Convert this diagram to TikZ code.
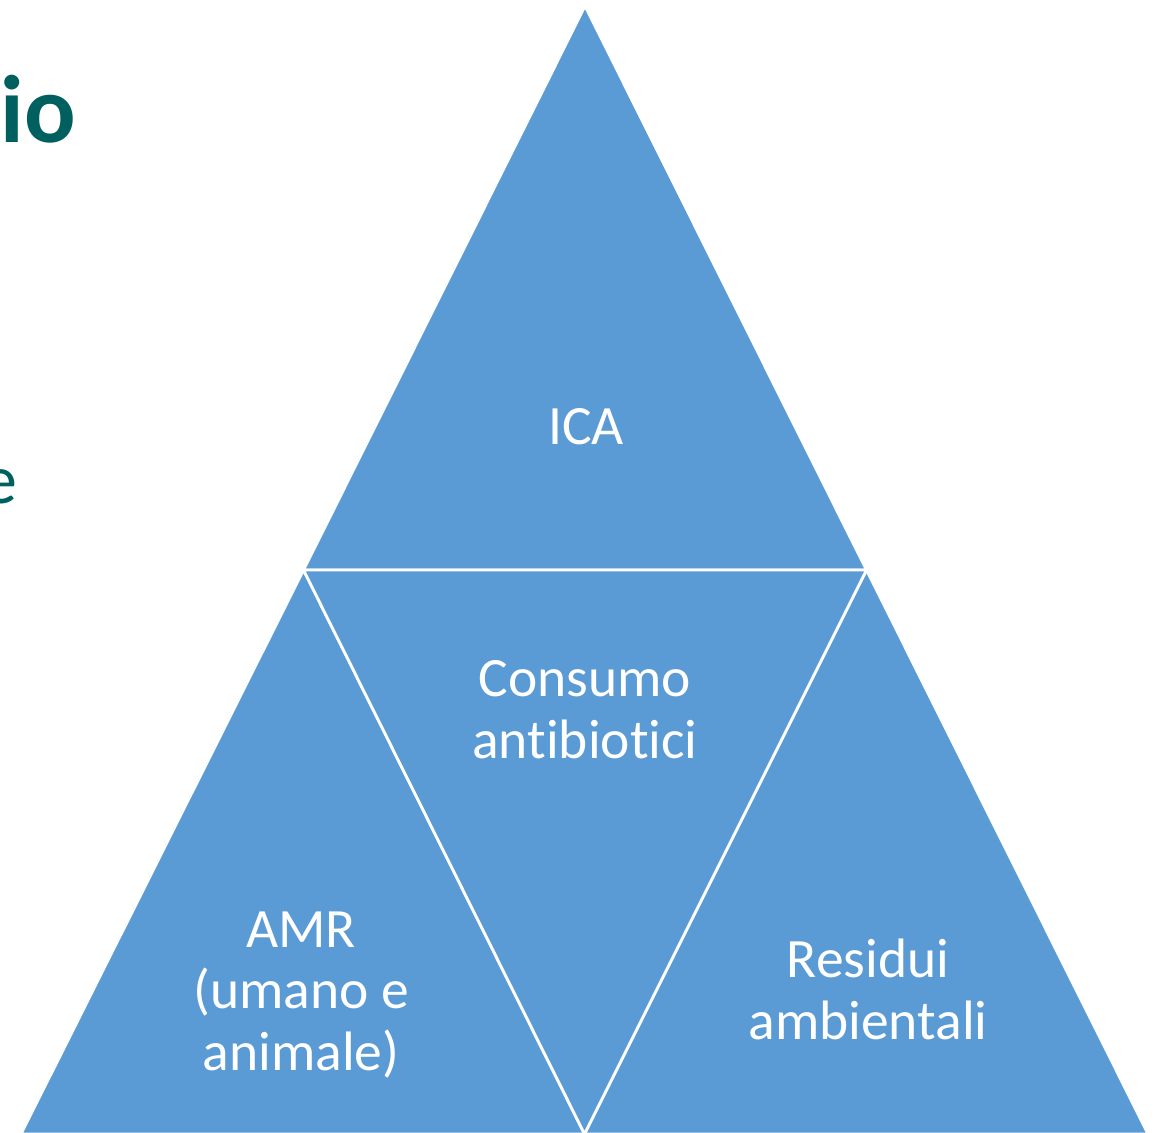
\documentclass[tikz,border=0pt]{standalone}
\usepackage{fontspec}
\setmainfont[Ligatures=NoCommon]{Carlito}
\definecolor{segblue}{RGB}{91,155,213}
\definecolor{titleteal}{RGB}{0,95,95}
\tikzset{
  segment/.style={fill=segblue, draw=white, line width=2.8pt, line join=round},
  label/.style={text=white, align=center, inner sep=0pt, anchor=base,
    font=\fontsize{55.5}{61.5}\selectfont},
}
\begin{document}
\begin{tikzpicture}[x=1pt, y=-1pt]
  \useasboundingbox (0,0) rectangle (1156,1132);
  \clip (0,0) rectangle (1156,1132);

  % corners of the pyramid
  \coordinate (apex) at (585,6);
  \coordinate (ml) at (303.5,570);
  \coordinate (mr) at (866.5,570);
  \coordinate (bl) at (21,1134);
  \coordinate (bm) at (584.5,1134);
  \coordinate (br) at (1148,1134);

  % four triangular segments
  \path[segment] (apex) -- (ml) -- (mr) -- cycle;
  \path[segment] (ml) -- (bl) -- (bm) -- cycle;
  \path[segment] (mr) -- (bm) -- (br) -- cycle;
  \path[segment] (ml) -- (mr) -- (bm) -- cycle;

  % segment labels (anchored on the baseline of their last line)
  \node[label] (ica) at (586,444) {ICA};
  \node[label] (cons) at (585,758) {Consumo\\antibiotici};
  \node[label] (amr) at (301,1070) {AMR\\(umano e\\animale)};
  \node[label] (res) at (868,1039) {Residui\\ambientali};

  % slide text running off the left edge
  \node[anchor=base east, inner sep=0pt, text=titleteal,
    font=\fontsize{96}{110}\selectfont\bfseries] (title) at (76,142) {io};
  \node[anchor=base east, inner sep=0pt, text=titleteal,
    font=\fontsize{70}{80}\selectfont] (body) at (18,503) {e};
\end{tikzpicture}
\end{document}
